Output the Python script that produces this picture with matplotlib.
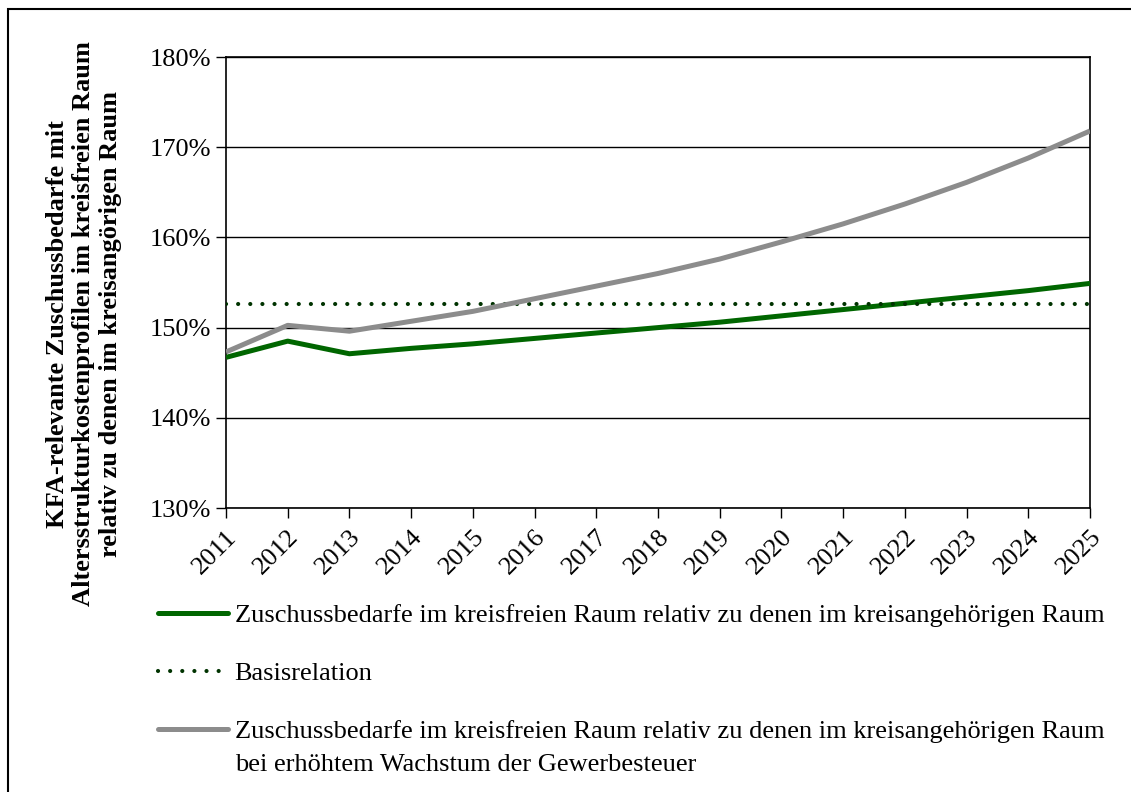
import matplotlib
matplotlib.use("Agg")
import matplotlib.pyplot as plt
from matplotlib.patches import Rectangle
from matplotlib.lines import Line2D

plt.rcParams['font.family'] = ['Liberation Serif', 'DejaVu Serif']

years = [2011, 2012, 2013, 2014, 2015, 2016, 2017, 2018, 2019, 2020, 2021, 2022, 2023, 2024, 2025]
year_labels = [str(y) for y in years]
zuschuss = [146.7, 148.5, 147.1, 147.7, 148.2, 148.8, 149.4, 150.0, 150.6, 151.3, 152.0, 152.7, 153.4, 154.1, 154.9]
basis = [152.6] * 15
zuschuss_gewst = [147.3, 150.25, 149.6, 150.7, 151.8, 153.2, 154.6, 156.0, 157.6, 159.5, 161.5, 163.7, 166.1, 168.8, 171.8]
yticks = [130, 140, 150, 160, 170, 180]
ytick_labels = [f"{v}%" for v in yticks]

label1 = "Zuschussbedarfe im kreisfreien Raum relativ zu denen im kreisangehörigen Raum"
label2 = "Basisrelation"
label3 = ("Zuschussbedarfe im kreisfreien Raum relativ zu denen im kreisangehörigen Raum\n"
          "bei erhöhtem Wachstum der Gewerbesteuer")
ylabel = ("KFA-relevante Zuschussbedarfe mit\n"
          "Altersstrukturkostenprofilen im kreisfreien Raum\n"
          "relativ zu denen im kreisangörigen Raum")

W, H = 1131, 792
fig = plt.figure(figsize=(W / 100, H / 100), dpi=100)
ax = fig.add_axes([226 / W, 1 - 508 / H, (1090 - 226) / W, (508 - 57) / H])

fs = 19
ax.plot(years, zuschuss, color='#006600', lw=3.6, solid_capstyle='butt', zorder=3)
ax.plot(years, basis, color='#003300', lw=3.0, linestyle=(0, (0.01, 2.9)),
        dash_capstyle='round', zorder=3)
ax.plot(years, zuschuss_gewst, color='#8c8c8c', lw=3.6, solid_capstyle='butt', zorder=4)

ax.set_xlim(years[0], years[-1])
ax.set_ylim(130, 180)
ax.set_yticks(yticks)
ax.set_yticklabels(ytick_labels, fontsize=fs)
ax.set_xticks(years)
ax.set_xticklabels(year_labels, fontsize=fs, rotation=45, ha='right', va='top',
                   rotation_mode='anchor')
ax.tick_params(axis='both', direction='out', length=7, width=1, color='black', pad=4)
ax.tick_params(axis='x', pad=6)
ax.grid(axis='y', color='black', lw=1)
ax.set_axisbelow(True)
for s in ax.spines.values():
    s.set_color('black')
    s.set_linewidth(1.2)

fig.text(84 / W, 1 - 324 / H, ylabel, rotation=90, ha='center', va='center',
         multialignment='center', fontsize=19, fontweight='bold', linespacing=1.22)

label3_lines = label3.split("\n")
handles = [
    Line2D([], [], color='#006600', lw=3.6, solid_capstyle='round'),
    Line2D([], [], color='#003300', lw=3.0, linestyle=(0, (0.01, 2.9)), dash_capstyle='round'),
    Line2D([], [], color='#8c8c8c', lw=3.6, solid_capstyle='round'),
]
leg = fig.legend(handles, [label1, label2, label3_lines[0]], loc='upper left',
                 bbox_to_anchor=(158 / W, 1 - 604 / H), frameon=False, fontsize=fs,
                 borderpad=0, borderaxespad=0, handlelength=2.65, handletextpad=0.25,
                 labelspacing=1.3)

fig.canvas.draw()
bb = leg.get_texts()[2].get_window_extent(fig.canvas.get_renderer())
fig.text(bb.x0 / W, (bb.y0 + bb.y1) / 2 / H - 33 / H, label3_lines[1], fontsize=fs,
         ha='left', va='center')

fig.add_artist(Rectangle((8 / W, -0.05), 1.2, 1 - 9 / H + 0.05, transform=fig.transFigure,
                         fill=False, edgecolor='black', lw=1.5))

fig.savefig('out.png', dpi=100)
